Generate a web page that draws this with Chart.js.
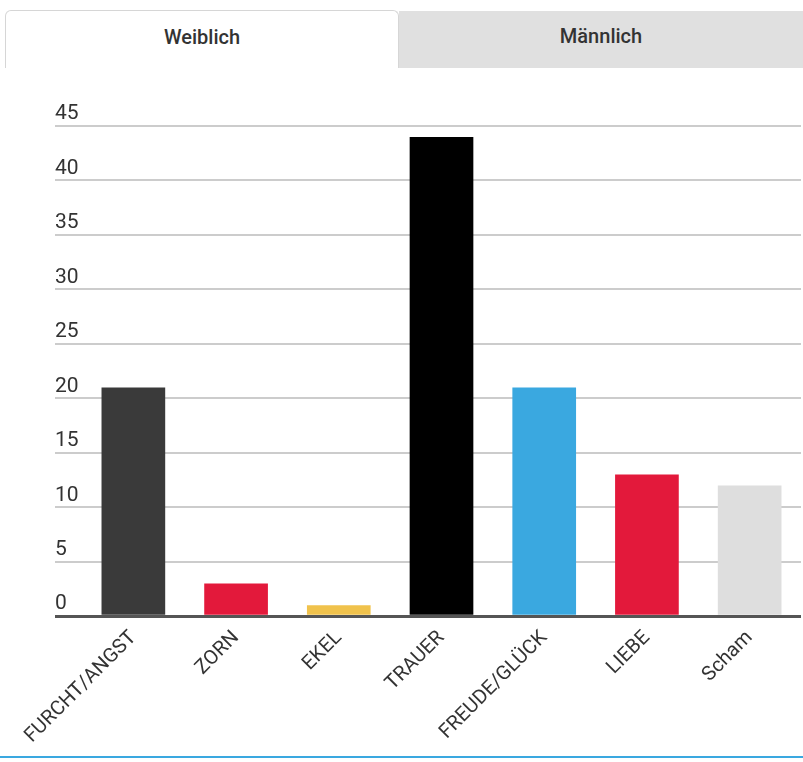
<!DOCTYPE html>
<html>
<head>
<meta charset="utf-8">
<script src="https://cdn.jsdelivr.net/npm/chart.js@4.4.1/dist/chart.umd.min.js"></script>
<style>
  body { margin: 0; background: #fff; font-family: Roboto, "Noto Sans", sans-serif; }
  #wrap { position: relative; width: 803px; height: 762px; overflow: hidden; }
  .tab { position: absolute; box-sizing: border-box; text-align: center; font-size: 20px; font-weight: 500; color: #333; }
  #tabW { left: 5px; top: 10px; width: 394px; height: 58px; line-height: 52px; background: #fff;
          border: 1px solid #d6d6d6; border-bottom: none; border-radius: 6px 6px 0 0; }
  #tabM { left: 399px; top: 11px; width: 404px; height: 57px; line-height: 50px; background: #e0e0e0; }
  #chartBox { position: absolute; left: 0; top: 72px; width: 803px; height: 686px; }
  #bottomLine { position: absolute; left: 0; top: 756px; width: 803px; height: 2px; background: #3aa8e0; z-index: 2; }
</style>
</head>
<body>
<div id="wrap">
  <div class="tab" id="tabW">Weiblich</div>
  <div class="tab" id="tabM">Männlich</div>
  <div id="chartBox"><canvas id="myChart"></canvas></div>
  <div id="bottomLine"></div>
</div>
<script>
// DATA
const categories = ["FURCHT/ANGST", "ZORN", "EKEL", "TRAUER", "FREUDE/GLÜCK", "LIEBE", "Scham"];
const values = [21, 3, 1, 44, 21, 13, 12];
const barColors = ["#3a3a3a", "#e3193b", "#f0c24c", "#000000", "#3aa8e0", "#e3193b", "#dedede"];
const yTicks = [0, 5, 10, 15, 20, 25, 30, 35, 40, 45];

// CHART
const ctx = document.getElementById("myChart").getContext("2d");

const chart = new Chart(ctx, {
  type: "bar",
  data: {
    labels: categories,
    datasets: [
      {
        label: "Weiblich",
        data: values,
        backgroundColor: barColors,
        categoryPercentage: 0.62,
        barPercentage: 1,
      },
    ],
  },
  options: {
    responsive: true,
    maintainAspectRatio: false,
    animation: false,
    layout: { padding: { top: 54, right: 2, left: 55, bottom: 0 } },
    plugins: { legend: { display: false }, tooltip: { enabled: false } },
    scales: {
      x: {
        grid: { display: false, drawTicks: false },
        border: { display: false },
        ticks: {
          color: "#333",
          font: { family: "Roboto", size: 20 },
          minRotation: 45,
          maxRotation: 45,
          padding: 10,
        },
      },
      y: {
        min: 0,
        max: 45,
        afterBuildTicks: (axis) => {
          axis.ticks = yTicks.map((v) => ({ value: v }));
        },
        afterFit: (axis) => {
          axis.width = 27;
        },
        border: { display: false },
        grid: {
          color: (c) => (c.tick && c.tick.value === 0 ? "#555555" : "#cccccc"),
          lineWidth: (c) => (c.tick && c.tick.value === 0 ? 3 : 2),
          tickLength: 27,
          drawTicks: true,
        },
        ticks: {
          crossAlign: "far",
          padding: 0,
          labelOffset: -12,
          color: "#333",
          font: { family: "Roboto", size: 21 },
        },
      },
    },
  },
});
</script>
</body>
</html>
